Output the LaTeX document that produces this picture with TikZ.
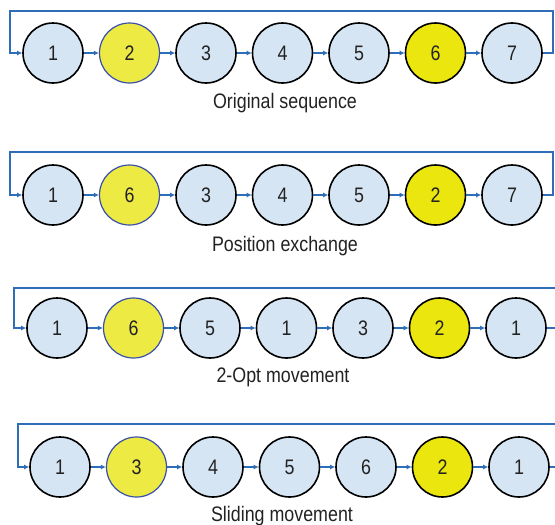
\documentclass[tikz,border=0pt]{standalone}
\usepackage{fontspec}
\setmainfont{Liberation Sans}[FakeStretch=0.85]
\usetikzlibrary{arrows.meta}
\definecolor{nodeblue}{HTML}{D5E5F3}
\definecolor{hiyellow}{HTML}{EEEA44}
\definecolor{solidyellow}{HTML}{EBE60E}
\definecolor{linkblue}{HTML}{2E6DB8}
\definecolor{rimblue}{HTML}{3A50A8}
\definecolor{txt}{HTML}{222222}
\begin{document}
\begin{tikzpicture}[x=1pt,y=-1pt,
  seqnode/.style={circle, draw=black, line width=1.6pt, fill=nodeblue, minimum size=60pt, inner sep=0pt, font=\fontsize{21}{21}\selectfont, text=txt},
  pickA/.style={seqnode, fill=hiyellow, draw=rimblue, line width=1.2pt},
  pickB/.style={seqnode, fill=solidyellow},
  link/.style={draw=linkblue, line width=1.8pt, -{Latex[length=5pt,width=5pt]}},
  loopline/.style={draw=linkblue, line width=1.6pt},
  caption/.style={font=\fontsize{21}{21}\selectfont, text=txt}]
\useasboundingbox (0,0) rectangle (555,525);

% rows: id / start x / circle y / items
\foreach \r/\xs/\cy/\items in {
  1/53/53/{1/seqnode,2/pickA,3/seqnode,4/seqnode,5/seqnode,6/pickB,7/seqnode},
  2/53/195/{1/seqnode,6/pickA,3/seqnode,4/seqnode,5/seqnode,2/pickB,7/seqnode},
  3/57/328/{1/seqnode,6/pickA,5/seqnode,1/seqnode,3/seqnode,2/pickB,1/seqnode},
  4/60/467/{1/seqnode,3/pickA,4/seqnode,5/seqnode,6/seqnode,2/pickB,1/seqnode}}{
  \foreach \t/\s [count=\i from 0] in \items {
    \node[\s] (r\r-\i) at (\xs+76.5*\i,\cy) {\t};
  }
  \foreach \i [evaluate=\i as \j using int(\i+1)] in {0,...,5} {
    \draw[link] (r\r-\i) -- (r\r-\j);
  }
}

% closed loops (rows 1 and 2)
\coordinate (r1a) at (553,53);
\coordinate (r1b) at (553,11);
\coordinate (r1c) at (10,11);
\coordinate (r1d) at (10,53);
\draw[link] (r1-6) -- (r1a) -- (r1b) -- (r1c) -- (r1d) -- (r1-0);

\coordinate (r2a) at (553,195);
\coordinate (r2b) at (553,152);
\coordinate (r2c) at (10,152);
\coordinate (r2d) at (10,195);
\draw[link] (r2-6) -- (r2a) -- (r2b) -- (r2c) -- (r2d) -- (r2-0);

% open loops (rows 3 and 4) running off the right edge
\coordinate (r3a) at (558,328);
\coordinate (r3b) at (558,288);
\coordinate (r3c) at (14,288);
\coordinate (r3d) at (14,328);
\draw[loopline] (r3-6) -- (r3a);
\draw[link] (r3b) -- (r3c) -- (r3d) -- (r3-0);

\coordinate (r4a) at (558,467);
\coordinate (r4b) at (558,424);
\coordinate (r4c) at (18,424);
\coordinate (r4d) at (18,467);
\draw[loopline] (r4-6) -- (r4a);
\draw[link] (r4b) -- (r4c) -- (r4d) -- (r4-0);

% captions
\node[caption] (cap1) at (285,103) {Original sequence};
\node[caption] (cap2) at (285,246) {Position exchange};
\node[caption] (cap3) at (283,377) {2-Opt movement};
\node[caption] (cap4) at (282,516) {Sliding movement};
\end{tikzpicture}
\end{document}
